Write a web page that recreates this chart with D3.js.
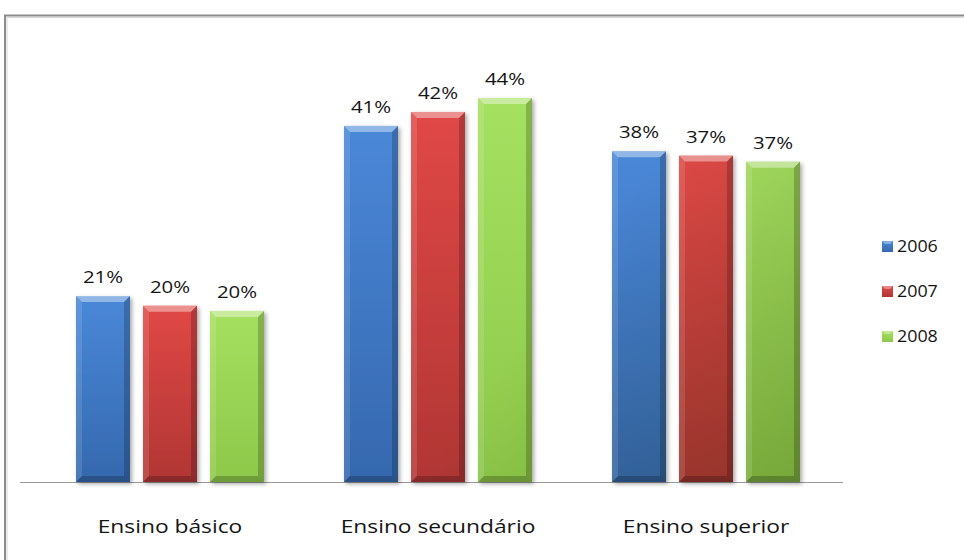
<!DOCTYPE html>
<html>
<head>
<meta charset="utf-8">
<script src="https://cdn.jsdelivr.net/npm/d3@7/dist/d3.min.js"></script>
<style>
  html, body { margin: 0; padding: 0; background: #fff; }
  svg { display: block; }
  text { font-family: "Open Sans", sans-serif; fill: #141414; }
</style>
</head>
<body>
<svg id="chart" width="964" height="560"></svg>
<script>
const categories = ['Ensino básico', 'Ensino secundário', 'Ensino superior'];
const seriesNames = ['2006', '2007', '2008'];
// percentages per category, one value per series (2006, 2007, 2008)
const basico = [21.3, 20.2, 19.6];
const secundario = [40.8, 42.4, 44.0];
const superior = [37.9, 37.4, 36.7];
const values = [basico, secundario, superior];

const seriesColors = {
  '2006': ['#4a88d8', '#3568ae'],
  '2007': ['#e04846', '#b03634'],
  '2008': ['#a6e060', '#8ec84a']
};

const baseline = 482;
const svg = d3.select('#chart');
const defs = svg.append('defs');

// frame (runs off the right and bottom edges)
svg.append('rect')
  .attr('x', 5).attr('y', 15.5).attr('width', 1000).attr('height', 600)
  .attr('fill', 'none').attr('stroke', '#8c8c8c').attr('stroke-width', 2);
svg.append('rect')
  .attr('x', 7).attr('y', 17.5).attr('width', 1000).attr('height', 600)
  .attr('fill', 'none').attr('stroke', '#d8d8d8').attr('stroke-width', 1);

seriesNames.forEach((s, i) => {
  const g = defs.append('linearGradient')
    .attr('id', 'grad' + i).attr('x1', 0).attr('y1', 0).attr('x2', 0).attr('y2', 1);
  g.append('stop').attr('offset', '0%').attr('stop-color', seriesColors[s][0]);
  g.append('stop').attr('offset', '100%').attr('stop-color', seriesColors[s][1]);
});

// darkening toward the lower right of the plot
const shade = defs.append('linearGradient')
  .attr('id', 'shade').attr('gradientUnits', 'userSpaceOnUse')
  .attr('x1', 550).attr('y1', 300).attr('x2', 800).attr('y2', 482);
shade.append('stop').attr('offset', '0%').attr('stop-color', '#203000').attr('stop-opacity', 0);
shade.append('stop').attr('offset', '100%').attr('stop-color', '#203000').attr('stop-opacity', 0.22);

const filter = defs.append('filter').attr('id', 'shadow')
  .attr('x', '-20%').attr('y', '-10%').attr('width', '140%').attr('height', '120%');
filter.append('feDropShadow')
  .attr('dx', 2).attr('dy', 2).attr('stdDeviation', 2)
  .attr('flood-color', '#000').attr('flood-opacity', 0.35);

const x0 = d3.scaleBand().domain(categories).range([36, 840]);
const x1 = d3.scaleBand().domain(seriesNames).range([0, x0.bandwidth()])
  .paddingInner(0.194).paddingOuter(0.597);
const y = d3.scaleLinear().domain([0, 44]).range([baseline, 98]);
const fmt = d3.format('.0%');

// baseline axis
svg.append('line')
  .attr('x1', 20).attr('x2', 843).attr('y1', baseline + 0.5).attr('y2', baseline + 0.5)
  .attr('stroke', '#9a9a9a').attr('stroke-width', 1);

const bevel = 6;
categories.forEach((cat, ci) => {
  const g = svg.append('g');
  seriesNames.forEach((s, si) => {
    const v = values[ci][si];
    const x = x0(cat) + x1(s);
    const w = x1.bandwidth();
    const top = y(v);
    const h = baseline - top;
    const bar = g.append('g');
    bar.append('rect')
      .attr('x', x).attr('y', top).attr('width', w).attr('height', h)
      .attr('fill', 'url(#grad' + si + ')').attr('filter', 'url(#shadow)');
    bar.append('rect')
      .attr('x', x).attr('y', top).attr('width', w).attr('height', h)
      .attr('fill', 'url(#shade)');
    const b = bevel;
    const polys = [
      [[[x, top], [x + w, top], [x + w - b, top + b], [x + b, top + b]], '#fff', 0.4],
      [[[x, top], [x + b, top + b], [x + b, baseline - b], [x, baseline]], '#fff', 0.12],
      [[[x + w, top], [x + w, baseline], [x + w - b, baseline - b], [x + w - b, top + b]], '#000', 0.2],
      [[[x, baseline], [x + b, baseline - b], [x + w - b, baseline - b], [x + w, baseline]], '#000', 0.22]
    ];
    polys.forEach(([pts, color, op]) => {
      bar.append('polygon')
        .attr('points', pts.map((p) => p.join(',')).join(' '))
        .attr('fill', color).attr('fill-opacity', op);
    });
    svg.append('text')
      .attr('transform', `translate(${x + w / 2},${top - 13}) scale(1.2,1)`)
      .attr('text-anchor', 'middle')
      .attr('font-size', 17)
      .text(fmt(v / 100));
  });
  svg.append('text')
    .attr('transform', `translate(${x0(cat) + x0.bandwidth() / 2},${533}) scale(1.2,1)`)
    .attr('text-anchor', 'middle')
    .attr('font-size', 19)
    .text(cat);
});

// legend
const legend = svg.append('g').attr('transform', 'translate(882,241)');
seriesNames.forEach((s, i) => {
  const row = legend.append('g').attr('transform', `translate(0,${i * 45})`);
  row.append('rect')
    .attr('width', 11).attr('height', 11)
    .attr('fill', 'url(#grad' + i + ')');
  row.append('polygon')
    .attr('points', '0,0 11,0 8,3 3,3')
    .attr('fill', '#fff').attr('fill-opacity', 0.35);
  row.append('text')
    .attr('transform', 'translate(15,11) scale(1.05,1)')
    .attr('font-size', 17)
    .text(s);
});
</script>
</body>
</html>
